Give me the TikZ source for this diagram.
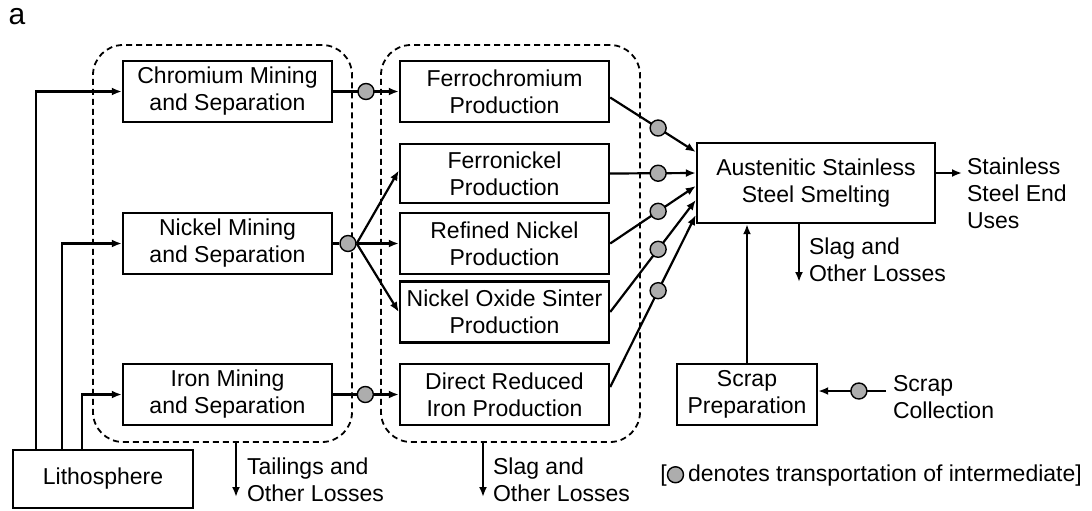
\documentclass[tikz,border=0pt]{standalone}
\usepackage{fontspec}
\setmainfont{Liberation Sans}
\usepackage{tikz}
\usetikzlibrary{arrows.meta}

\definecolor{dotgray}{gray}{0.68}

\tikzset{
  procbox/.style={draw, line width=1.2pt, align=center, inner sep=0pt,
    minimum width=104.5pt, minimum height=30.5pt},
  group/.style={draw, dash pattern=on 3pt off 2pt, line width=0.9pt,
    rounded corners=15pt, inner sep=0pt},
  flow/.style={line width=1.1pt, -{Latex[length=5pt,width=4pt]}},
  link/.style={line width=1.1pt},
  tdot/.style={circle, draw, fill=dotgray, line width=0.7pt, inner sep=0pt,
    minimum size=8pt},
  loss/.style={align=left, anchor=west}
}

\begin{document}
\begin{tikzpicture}[x=0.5pt, y=-0.5pt, font=\fontsize{11.5}{13.5}\selectfont]
        \useasboundingbox (0,0) rectangle (1092,510);
        \node (panel) at (17,17) {\fontsize{15}{15}\selectfont a};

        % Mining and separation
        \node[group, minimum width=129.5pt, minimum height=198.5pt] (mining) at (222.5,243.5) {};
        \node[procbox] (chrom) at (227.5,91.5) {Chromium Mining\\and Separation};
        \node[procbox] (nick) at (227.5,243.5) {Nickel Mining\\and Separation};
        \node[procbox] (iron) at (227.5,394.5) {Iron Mining\\and Separation};
        \node[procbox, minimum width=90pt, minimum height=29pt] (litho) at (103,479) {Lithosphere};

        % Intermediate production
        \node[group, minimum width=129.5pt, minimum height=198.5pt] (prod) at (510.5,243.5) {};
        \node[procbox] (fcr) at (504.5,91.5) {Ferrochromium\\Production};
        \node[procbox, minimum height=29.5pt] (fni) at (504.5,173.5) {Ferronickel\\Production};
        \node[procbox] (rni) at (504.5,243.5) {Refined Nickel\\Production};
        \node[procbox] (nos) at (504.5,312) {Nickel Oxide Sinter\\Production};
        \node[procbox] (dri) at (504.5,394.5) {Direct Reduced\\Iron Production};

        % Smelting and scrap
        \node[procbox, minimum width=119pt, minimum height=40pt] (aust) at (816,183) {Austenitic Stainless\\Steel Smelting};
        \node[procbox, minimum width=70pt] (scrap) at (747,394.5) {Scrap\\Preparation};

        % Ores out of the lithosphere
        \draw[flow] ([xshift=12pt]litho.north west) |- (chrom.west);
        \draw[flow] ([xshift=25pt]litho.north west) |- (nick.west);
        \draw[flow] ([xshift=35pt]litho.north west) |- (iron.west);

        % Concentrates to production
        \draw[flow] (chrom) -- node[tdot, pos=0.5] (t1) {} (fcr);
        \node[tdot] (nhub) at (348,243.5) {};
        \draw[link] (nick) -- (nhub);
        \draw[flow] (nhub.east) -- ([yshift=1.5pt]fni.west);
        \draw[flow] (nhub.east) -- (rni.west);
        \draw[flow] (nhub.east) -- (nos.west);
        \draw[flow] (iron) -- node[tdot, pos=0.49] (t2) {} (dri);

        % Intermediates to the smelter
        \draw[flow] ([yshift=-3pt]fcr.east) -- node[tdot, pos=0.56] (t3) {} ([yshift=15.5pt]aust.west);
        \draw[flow] (fni.east) -- node[tdot, pos=0.56] (t4) {} ([yshift=5pt]aust.west);
        \draw[flow] (rni.east) -- node[tdot, pos=0.56] (t5) {} ([yshift=-1.5pt]aust.west);
        \draw[flow] (nos.east) -- node[tdot, pos=0.56] (t6) {} ([yshift=-8.5pt]aust.west);
        \draw[flow] ([yshift=3.75pt]dri.east) -- node[tdot, pos=0.56] (t7) {} ([yshift=-16pt]aust.west);

        % Products and losses
        \coordinate (useend) at (962,173);
        \draw[flow] (aust.east |- useend) -- (useend);
        \node[loss] (uses) at (960,193) {Stainless\\Steel End\\Uses};

        \node[loss] (slagA) at (802,260) {Slag and\\Other Losses};
        \coordinate (slagAend) at (799,282);
        \draw[flow] (aust.south -| slagAend) -- (slagAend);

        \node[loss] (tail) at (240,480) {Tailings and\\Other Losses};
        \coordinate (tailend) at (236,497);
        \draw[flow] (mining.south -| tailend) -- (tailend);

        \node[loss] (slagB) at (486,480) {Slag and\\Other Losses};
        \coordinate (slagBend) at (483,497);
        \draw[flow] (prod.south -| slagBend) -- (slagBend);

        % Scrap loop
        \draw[flow] (scrap) -- (scrap |- aust.south);
        \node[loss] (scol) at (886,397) {Scrap\\Collection};
        \draw[flow] ([yshift=3pt]scol.west) -- node[tdot, pos=0.4] (t8) {} ([yshift=1.75pt]scrap.east);

        % Key
        \node[anchor=west, inner sep=0pt] (legend) at (660,476) {[\tikz[baseline=-3.6pt]\draw[fill=dotgray, line width=0.7pt] (0,0) circle (4pt);\,denotes transportation of intermediate]};
\end{tikzpicture}
\end{document}
